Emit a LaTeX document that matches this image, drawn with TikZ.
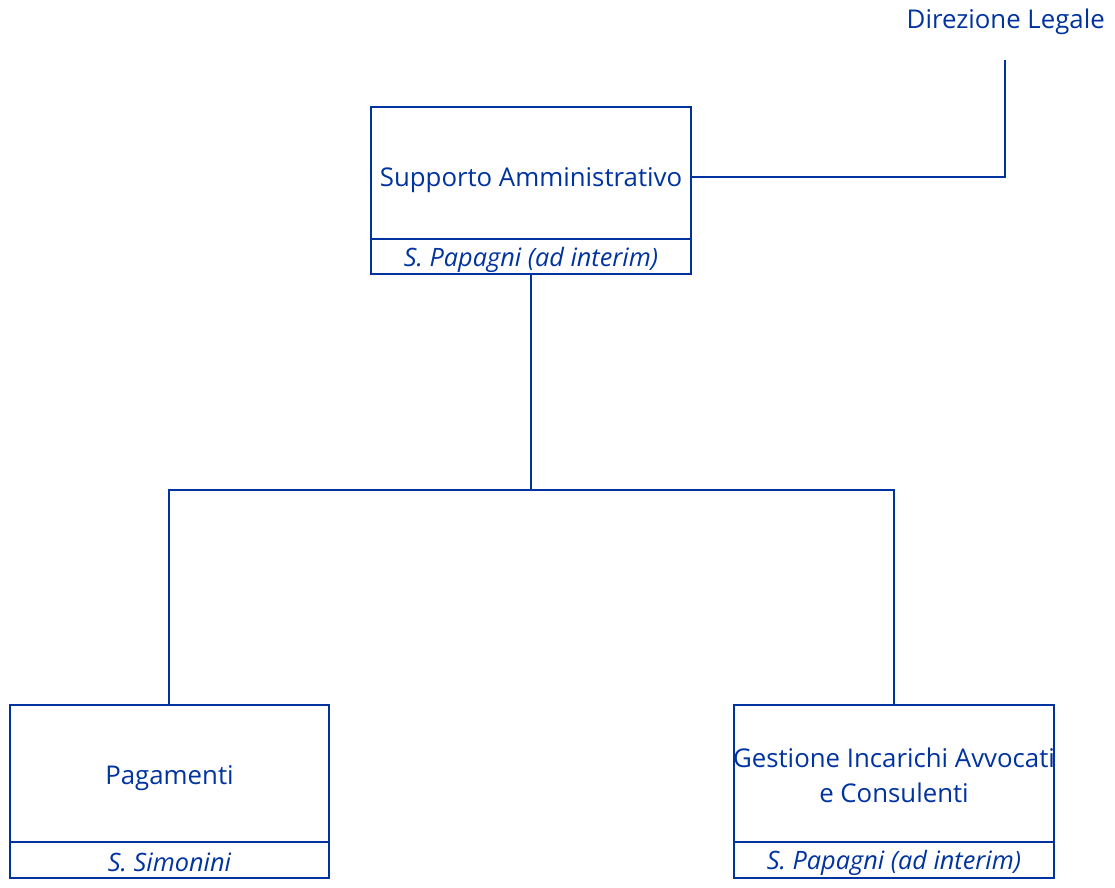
\documentclass[tikz,border=0pt]{standalone}
\usepackage{fontspec}
\setmainfont{Open Sans}
\definecolor{ublue}{HTML}{0033A0}
\begin{document}
\begin{tikzpicture}[x=1pt,y=-1pt,
  boxline/.style={draw=ublue,line width=2.9pt},
  conn/.style={draw=ublue,line width=2.9pt},
  ttl/.style={text=ublue,font=\fontsize{25.8}{35.5}\selectfont,align=center,inner sep=0pt},
  sub/.style={text=ublue,font=\fontsize{25.3}{28}\selectfont\itshape,inner sep=0pt}]
\useasboundingbox (0,0) rectangle (1115,887);
% top box
\draw[boxline] (371,107) rectangle (691,274);
\draw[boxline] (371,239) -- (691,239);
\node[ttl] (sa) at (531,180) {Supporto Amministrativo};
\node[sub] (sas) at (531,259.5) {S. Papagni (ad interim)};
\coordinate (saB) at (531,274);
\coordinate (saR) at (691,177);
% left box
\draw[boxline] (10,705) rectangle (329,878);
\draw[boxline] (10,842) -- (329,842);
\node[ttl] (pg) at (169.5,778.5) {Pagamenti};
\node[sub] (pgs) at (169.5,862.5) {S. Simonini};
\coordinate (pgT) at (169,705);
% right box
\draw[boxline] (734,705) rectangle (1054,878);
\draw[boxline] (734,842) -- (1054,842);
\node[ttl] (gi) at (894,775.5) {Gestione Incarichi Avvocati\\e Consulenti};
\node[sub] (gis) at (894,862.5) {S. Papagni (ad interim)};
\coordinate (giT) at (894,705);
% Direzione Legale
\node[ttl,anchor=east] (dl) at (1105,22) {Direzione Legale};
\coordinate (dlB) at (1005,60);
% connectors
\draw[conn] (saB) -- (531,490) -- (169,490) -- (pgT);
\draw[conn] (531,490) -- (894,490) -- (giT);
\draw[conn] (saR) -- (1005,177) -- (dlB);
\end{tikzpicture}
\end{document}
